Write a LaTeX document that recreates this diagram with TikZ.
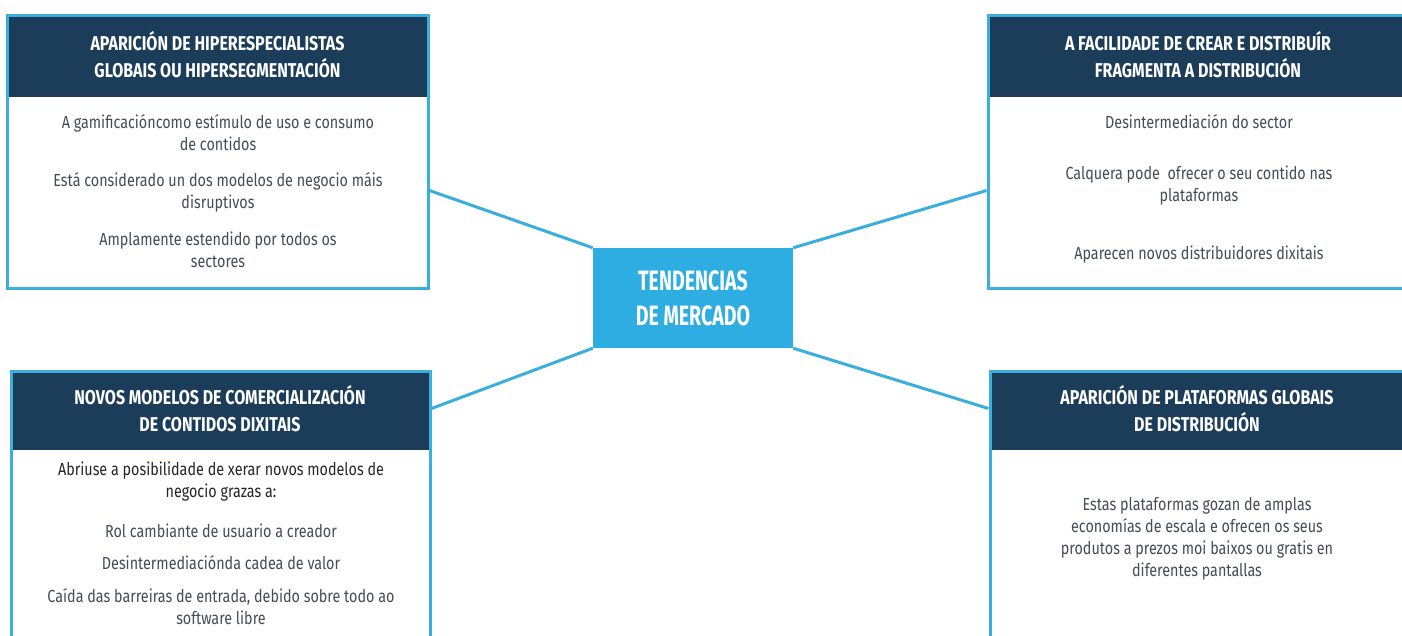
\documentclass[tikz,border=0pt]{standalone}
\usepackage{fontspec}
\setmainfont{Fira Sans}[FakeStretch=0.82]
\newfontfamily\hdfont{Fira Sans}[FakeStretch=0.80]
\newfontfamily\ctfont{Fira Sans}[FakeStretch=0.70]
\definecolor{lblue}{HTML}{3AAEDC}
\definecolor{cblue}{HTML}{2EADE2}
\definecolor{navy}{HTML}{1C3D5A}
\definecolor{txt}{HTML}{454B58}
\tikzset{
  frame/.style={draw=lblue, line width=3pt, inner sep=0pt},
  head/.style={fill=navy, inner sep=0pt},
  hd/.style={text=white, font=\hdfont\bfseries\fontsize{20}{27}\selectfont, align=center, inner sep=0pt},
  bd/.style={text=txt, font=\fontsize{17.5}{22}\selectfont, align=center, inner sep=0pt},
  link/.style={draw=lblue, line width=3pt},
}
\begin{document}
\begin{tikzpicture}[x=1pt,y=-1pt]
\useasboundingbox (0,0) rectangle (1402,635);
\clip (0,0) rectangle (1402,635);
\fill[white] (0,0) rectangle (1402,635);
% headers
\node[head, minimum width=421pt, minimum height=82pt] (tlh) at (217.5,56) {};
\node[head, minimum width=422pt, minimum height=82pt] (trh) at (1199,56) {};
\node[head, minimum width=419pt, minimum height=79pt] (blh) at (220.5,410.5) {};
\node[head, minimum width=420pt, minimum height=79pt] (brh) at (1200,410.5) {};
% frames
\node[frame, minimum width=421pt, minimum height=273pt] (tl) at (217.5,151.5) {};
\node[frame, minimum width=422pt, minimum height=273pt] (tr) at (1199,151.5) {};
\node[frame, minimum width=419pt, minimum height=300pt] (bl) at (220.5,521) {};
\node[frame, minimum width=420pt, minimum height=300pt] (br) at (1200,521) {};
% centre
\node[fill=cblue, minimum width=200pt, minimum height=100pt, inner sep=0pt,
      text=white, font=\ctfont\bfseries\fontsize{28}{35}\selectfont, align=center] (c) at (693,298)
      {TENDENCIAS\\DE MERCADO};
% connectors
\draw[link] (c.north west) -- ([yshift=-39pt]tl.east);
\draw[link] (c.north east) -- ([yshift=-39pt]tr.west);
\draw[link] (c.south west) -- ([yshift=-39pt]bl.north east);
\draw[link] (c.south east) -- ([yshift=-39pt]br.north west);
% header texts
\node[hd] (tlt) at (217.5,55) {APARICIÓN DE HIPERESPECIALISTAS\\GLOBAIS OU HIPERSEGMENTACIÓN};
\node[hd] (trt) at (1198,55) {A FACILIDADE DE CREAR E DISTRIBUÍR\\FRAGMENTA A DISTRIBUCIÓN};
\node[hd] (blt) at (220,409) {NOVOS MODELOS DE COMERCIALIZACIÓN\\DE CONTIDOS DIXITAIS};
\node[hd] (brt) at (1197,409) {APARICIÓN DE PLATAFORMAS GLOBAIS\\DE DISTRIBUCIÓN};
% body texts
\node[bd] (tl1) at (218,133) {A gamificacióncomo estímulo de uso e consumo\\de contidos};
\node[bd] (tl2) at (218,192) {Está considerado un dos modelos de negocio máis\\disruptivos};
\node[bd] (tl3) at (218,250) {Amplamente estendido por todos os\\sectores};
\node[bd] (tr1) at (1199,122) {Desintermediación do sector};
\node[bd] (tr2) at (1199,186) {Calquera pode\ \ ofrecer o seu contido nas\\plataformas};
\node[bd] (tr3) at (1199,255) {Aparecen novos distribuidores dixitais};
\node[bd, text=black!85, font=\fontseries{m}\fontsize{17.5}{22}\selectfont] (bl1) at (221,482) {Abriuse a posibilidade de xerar novos modelos de\\negocio grazas a:};
\node[bd] (bl2) at (221,531) {Rol cambiante de usuario a creador};
\node[bd] (bl3) at (221,563) {Desintermediaciónda cadea de valor};
\node[bd] (bl4) at (221,607) {Caída das barreiras de entrada, debido sobre todo ao\\software libre};
\node[bd] (br1) at (1197,539) {Estas plataformas gozan de amplas\\economías de escala e ofrecen os seus\\produtos a prezos moi baixos ou gratis en\\diferentes pantallas};
\end{tikzpicture}
\end{document}
